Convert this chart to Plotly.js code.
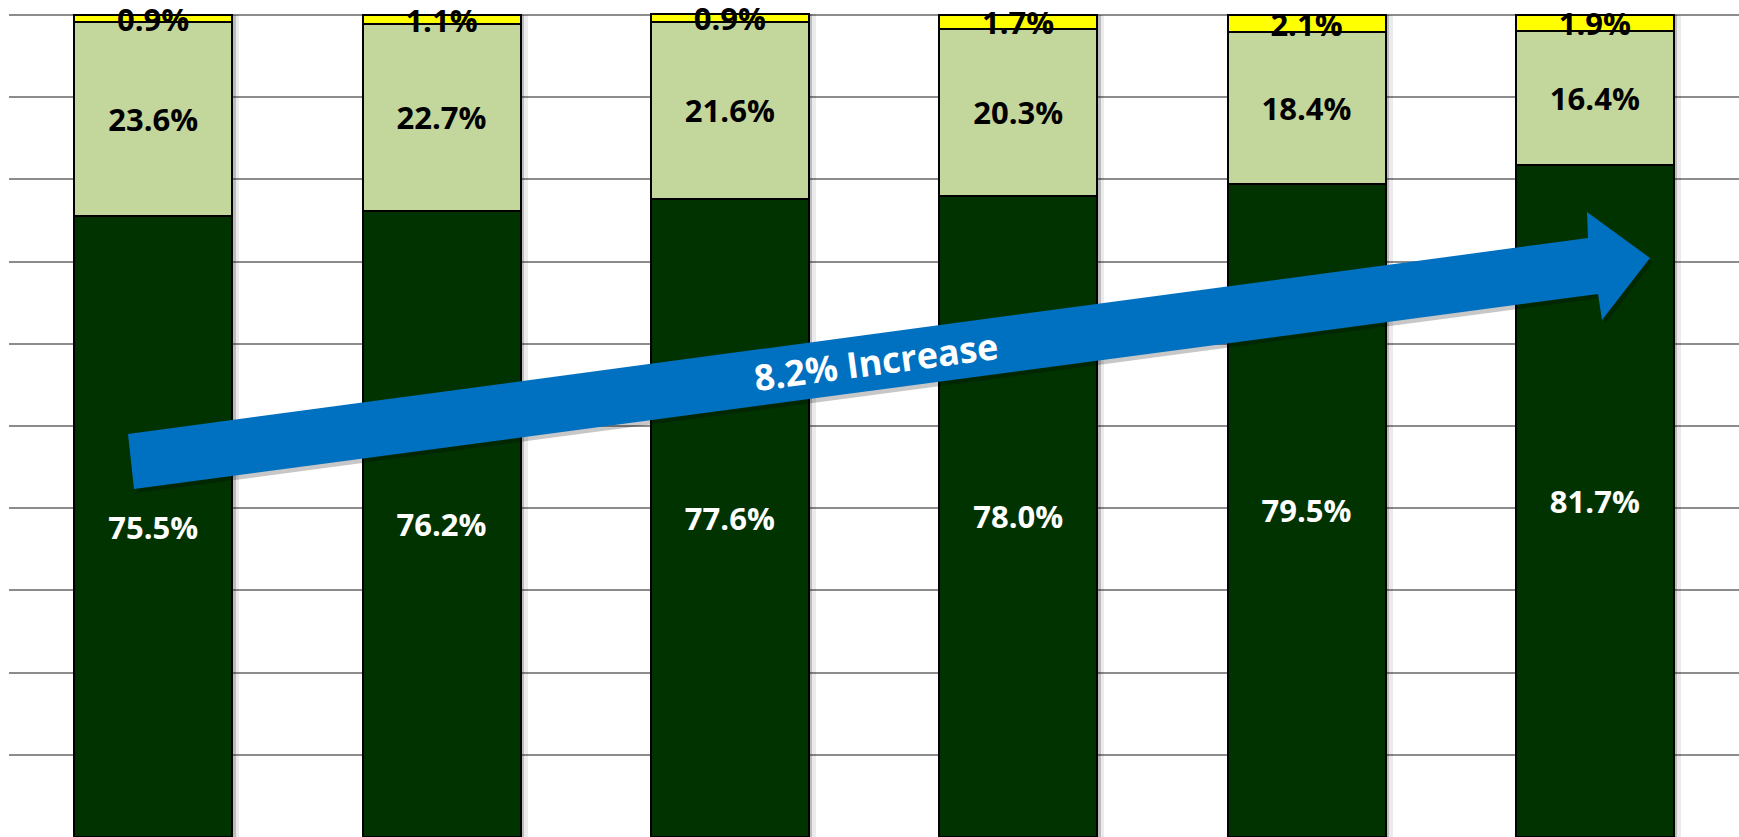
<!DOCTYPE html>
<html>
<head>
<meta charset="utf-8">
<script src="https://cdn.plot.ly/plotly-3.0.1.min.js"></script>
<style>html,body{margin:0;padding:0;background:#fff;}#chart{width:1739px;height:837px;}</style>
</head>
<body>
<div id="chart"></div>
<script>
// ---- data ----
const categories = ['1', '2', '3', '4', '5', '6'];
const darkValues = [75.5, 76.2, 77.6, 78.0, 79.5, 81.7];
const lightValues = [23.6, 22.7, 21.6, 20.3, 18.4, 16.4];
const yellowValues = [0.9, 1.1, 0.9, 1.7, 2.1, 1.9];
const arrowLabel = '8.2% Increase';

const totals = categories.map((c, i) => darkValues[i] + lightValues[i] + yellowValues[i]);

const FONT = 'Open Sans, Lato, sans-serif';
const LABEL_SIZE = 31;

function segment(values, color, textColor) {
  return {
    type: 'bar',
    x: categories,
    y: values,
    xaxis: 'x3',
    yaxis: 'y',
    marker: {color: color, line: {color: '#000000', width: 2}},
    texttemplate: '<b>%{y:.1f}%</b>',
    textposition: 'inside',
    insidetextanchor: 'middle',
    textangle: 0,
    constraintext: 'none',
    cliponaxis: false,
    textfont: {family: FONT, size: LABEL_SIZE, color: textColor, weight: 'bold'},
    hoverinfo: 'skip',
    showlegend: false
  };
}

function shadowTrace(axis, alpha) {
  return {
    type: 'bar',
    x: categories,
    y: totals,
    xaxis: axis,
    yaxis: 'y',
    marker: {color: 'rgba(0,0,0,' + alpha + ')', line: {width: 0}},
    hoverinfo: 'skip',
    showlegend: false
  };
}

const traces = [
  shadowTrace('x', 0.08),
  shadowTrace('x2', 0.2),
  segment(darkValues, '#003300', '#ffffff'),
  segment(lightValues, '#C3D69B', '#000000'),
  segment(yellowValues, '#FFFF00', '#000000')
];

// plot area: x from 9px to 1739px, y from 0 to 837px (100% at 15px)
const yTop = 100 * 837 / 822;
const catPx = 288.4;

function px(x) { return (x - 9) / 1730; }
function py(y) { return (837 - y) / 837; }
const arrowPts = [[128,434],[1588,238],[1587,212],[1650,258],[1602,320],[1598,294],[134,489]];
function pathFrom(pts, dx, dy) {
  return pts.map((p, i) => (i === 0 ? 'M' : 'L') + px(p[0] + dx).toFixed(5) + ',' + py(p[1] + dy).toFixed(5)).join(' ') + ' Z';
}
function hiddenCat(shiftPx, overlay) {
  const s = shiftPx / catPx;
  const ax = {
    type: 'category',
    range: [-0.5 - s, 5.5 - s],
    showticklabels: false, showgrid: false, zeroline: false, showline: false, ticks: ''
  };
  if (overlay) ax.overlaying = 'x';
  return ax;
}

const layout = {
  width: 1739,
  height: 837,
  margin: {l: 9, r: 0, t: 0, b: 0, pad: 0},
  paper_bgcolor: '#ffffff',
  plot_bgcolor: '#ffffff',
  barmode: 'stack',
  bargap: 0.452,
  showlegend: false,
  uniformtext: {mode: 'show', minsize: LABEL_SIZE},
  font: {family: FONT},
  xaxis: hiddenCat(7, false),
  xaxis2: hiddenCat(3.5, true),
  xaxis3: hiddenCat(0, true),
  yaxis: {
    range: [0, yTop],
    dtick: 10,
    tick0: 0,
    showticklabels: false,
    showgrid: true,
    gridcolor: '#8c8c8c',
    gridwidth: 2,
    zeroline: false,
    showline: false,
    ticks: ''
  },
  shapes: [
    {type: 'path', xref: 'paper', yref: 'paper', path: pathFrom(arrowPts, 3, 4),
     fillcolor: 'rgba(0,0,0,0.22)', line: {width: 0}},
    {type: 'path', xref: 'paper', yref: 'paper', path: pathFrom(arrowPts, 0, 0),
     fillcolor: '#0070C0', line: {width: 0}}
  ],
  annotations: [
    {xref: 'paper', yref: 'paper', x: px(876), y: py(361), xanchor: 'center', yanchor: 'middle',
     text: '<b>' + arrowLabel + '</b>', showarrow: false, textangle: -7.6,
     font: {family: FONT, size: 36, color: '#ffffff', weight: 'bold'}}
  ]
};

Plotly.newPlot('chart', traces, layout, {displayModeBar: false, staticPlot: true});
</script>
</body>
</html>
